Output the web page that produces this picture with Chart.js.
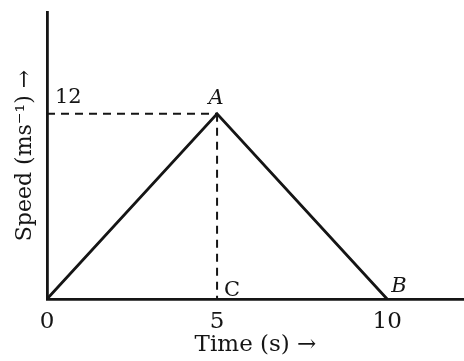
<!DOCTYPE html>
<html>
<head>
<meta charset="utf-8">
<script src="https://cdn.jsdelivr.net/npm/chart.js@4/dist/chart.umd.min.js"></script>
<style>
  html, body { margin: 0; padding: 0; background: #fff; }
</style>
</head>
<body>
<canvas id="graphCanvas" width="464" height="361"></canvas>
<script>
// speed-time data
const timeValues = [0, 5, 10];
const speedValues = [0, 12, 0];
const xTickValues = [0, 5, 10];
const peakTime = 5;
const peakSpeed = 12;
// annotation labels: text, anchor point
const labelTexts = ["12", "A", "C", "B"];
const labelTimes = [0, 5, 5, 10];
const labelSpeeds = [12, 12, 0, 0];

const FONT = "'DejaVu Serif', 'Liberation Serif', serif";
const INK = "#151515";

const mainLine = timeValues.map((t, i) => ({ x: t, y: speedValues[i] }));

/**
 * 点 A, B, C と 12 の文字を描く。
 */
const labelPlugin = {
  id: "pointLabels",
  afterDatasetsDraw(chart) {
    const { ctx, scales } = chart;
    // offsets from anchor point, in pixels
    const dx = [8, -1, 7, 4];
    const dy = [-11, -10, -3, -7];
    const italic = [false, true, false, true];
    ctx.save();
    ctx.fillStyle = INK;
    ctx.textBaseline = "alphabetic";
    for (let i = 0; i < labelTexts.length; i++) {
      const px = scales.x.getPixelForValue(labelTimes[i]);
      const py = scales.y.getPixelForValue(labelSpeeds[i]);
      ctx.font = (italic[i] ? "italic " : "") + "21px " + FONT;
      ctx.textAlign = labelTexts[i] === "A" ? "center" : "left";
      ctx.fillText(labelTexts[i], px + dx[i], py + dy[i]);
    }
    ctx.restore();
  },
};

const ctx = document.getElementById("graphCanvas").getContext("2d");

new Chart(ctx, {
  type: "scatter",
  data: {
    datasets: [
      {
        data: mainLine,
        showLine: true,
        borderColor: INK,
        borderWidth: 2.8,
        pointRadius: 0,
        clip: false,
      },
      {
        data: [{ x: 0, y: peakSpeed }, { x: peakTime, y: peakSpeed }],
        showLine: true,
        borderColor: INK,
        borderWidth: 2,
        borderDash: [8, 6],
        pointRadius: 0,
        clip: false,
      },
      {
        data: [{ x: peakTime, y: peakSpeed }, { x: peakTime, y: 0 }],
        showLine: true,
        borderColor: INK,
        borderWidth: 2,
        borderDash: [8, 6],
        pointRadius: 0,
        clip: false,
      },
    ],
  },
  options: {
    responsive: false,
    animation: false,
    layout: { padding: { top: 12, left: 0, right: 0, bottom: 0 } },
    plugins: {
      legend: { display: false },
      tooltip: { enabled: false },
    },
    scales: {
      x: {
        type: "linear",
        min: 0,
        max: 12.26,
        afterBuildTicks(scale) {
          scale.ticks = xTickValues.map((v) => ({ value: v }));
        },
        afterFit(scale) {
          scale.height = 62;
        },
        grid: { display: false, drawTicks: false },
        border: { display: true, color: INK, width: 2.8 },
        ticks: {
          color: INK,
          padding: 9,
          maxRotation: 0,
          autoSkip: false,
          font: { family: FONT, size: 23 },
        },
        title: {
          display: true,
          text: "Time (s) →",
          color: INK,
          padding: { top: 2, bottom: 2 },
          font: { family: FONT, size: 23 },
        },
      },
      y: {
        type: "linear",
        min: 0,
        max: 18.6,
        afterFit(scale) {
          scale.width = 47;
        },
        grid: { display: false, drawTicks: false },
        border: { display: true, color: INK, width: 2.8 },
        ticks: { display: false },
        title: {
          display: true,
          text: "Speed (ms⁻¹) →",
          color: INK,
          padding: { top: 12, bottom: 0 },
          font: { family: FONT, size: 22 },
        },
      },
    },
  },
  plugins: [labelPlugin],
});
</script>
</body>
</html>
